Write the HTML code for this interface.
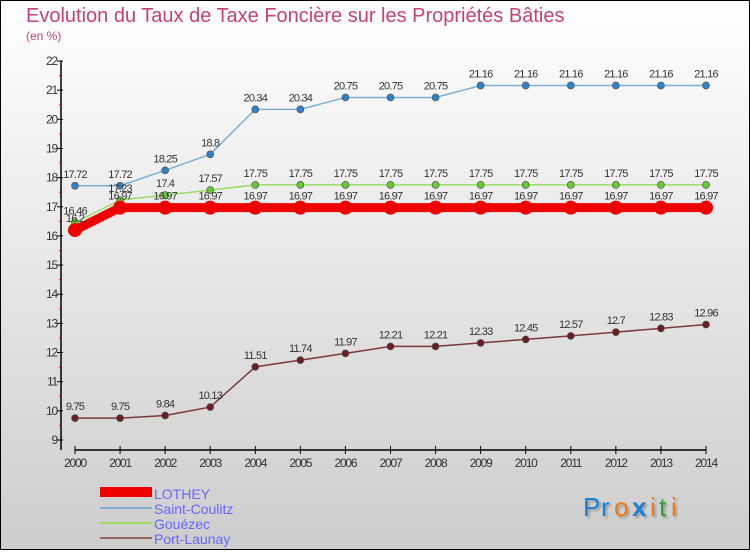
<!DOCTYPE html>
<html><head><meta charset="utf-8"><style>
html,body{margin:0;padding:0}
body{width:750px;height:550px;overflow:hidden;font-family:"Liberation Sans",sans-serif}
</style></head><body>
<svg id="c" width="750" height="550" xmlns="http://www.w3.org/2000/svg">
<defs><linearGradient id="bg" x1="0" y1="0" x2="0" y2="1"><stop offset="0" stop-color="#ffffff"/><stop offset="1" stop-color="#cdcdcd"/></linearGradient></defs>
<rect x="0.5" y="0.5" width="749" height="549" fill="url(#bg)" stroke="#000"/>
<text x="26" y="22" font-size="20" fill="#c8407a">Evolution du Taux de Taxe Foncière sur les Propriétés Bâties</text>
<text x="26" y="40" font-size="12" fill="#c8407a">(en %)</text>
<g id="axes"></g><g id="series"></g>
<g>
<rect x="100" y="487" width="52" height="10" fill="#ee0000"/>
<text x="154" y="499" font-size="14" fill="#6666ff">LOTHEY</text>
<rect x="100" y="507" width="52" height="2" fill="#7bafd4"/>
<text x="154" y="514" font-size="14" fill="#6666ff">Saint-Coulitz</text>
<rect x="100" y="522" width="52" height="2" fill="#99dd66"/>
<text x="154" y="529" font-size="14" fill="#6666ff">Gouézec</text>
<rect x="100" y="537" width="52" height="2" fill="#996666"/>
<text x="154" y="544" font-size="14" fill="#6666ff">Port-Launay</text>
</g>
<g font-size="26" style="text-shadow:2px 2px 2px #999">
<text x="583" y="516" fill="#1e7fd0">P</text><text x="601" y="516" fill="#1e7fd0">r</text><text x="614" y="516" fill="#f07a10">o</text><text x="632" y="516" fill="#1e7fd0" font-weight="bold">x</text><text x="650" y="516" fill="#f07a10">i</text><text x="659" y="516" fill="#30a030">t</text><text x="671" y="516" fill="#f07a10">i</text>
</g>
</svg>
<script>
const years=[2000,2001,2002,2003,2004,2005,2006,2007,2008,2009,2010,2011,2012,2013,2014];
const yTicks=[9,10,11,12,13,14,15,16,17,18,19,20,21,22];
const lothey=[16.2,16.97,16.97,16.97,16.97,16.97,16.97,16.97,16.97,16.97,16.97,16.97,16.97,16.97,16.97];
const saintCoulitz=[17.72,17.72,18.25,18.8,20.34,20.34,20.75,20.75,20.75,21.16,21.16,21.16,21.16,21.16,21.16];
const gouezec=[16.46,17.23,17.4,17.57,17.75,17.75,17.75,17.75,17.75,17.75,17.75,17.75,17.75,17.75,17.75];
const portLaunay=[9.75,9.75,9.84,10.13,11.51,11.74,11.97,12.21,12.21,12.33,12.45,12.57,12.7,12.83,12.96];
const NS='http://www.w3.org/2000/svg';
const X=i=>75+i*(706-75)/(years.length-1);
const Y=v=>440-(v-9)*(440-61)/13;
function mk(t,a,p){const e=document.createElementNS(NS,t);for(const k in a)e.setAttribute(k,a[k]);p.appendChild(e);return e;}
const ax=document.getElementById('axes');
const yl=mk('line',{x1:61,y1:61,x2:61,y2:450,stroke:'#000','stroke-width':1.5},ax);


yTicks.forEach(v=>{
 mk('line',{x1:57,y1:Y(v),x2:63,y2:Y(v),stroke:'#000'},ax);
 if(v<22)mk('line',{x1:59,y1:Y(v+0.5),x2:62,y2:Y(v+0.5),stroke:'#e00'},ax);
 const t=mk('text',{x:57,y:Y(v)+4,'font-size':12,'text-anchor':'end',fill:'#333','letter-spacing':'-1.2'},ax);t.textContent=v;
 
 
});
const xl=mk('line',{x1:75,y1:450,x2:706,y2:450,stroke:'#000','stroke-width':1.5},ax);


years.forEach((y,i)=>{
 mk('line',{x1:X(i),y1:446,x2:X(i),y2:454,stroke:'#000'},ax);
 const t=mk('text',{x:X(i),y:467,'font-size':12,'text-anchor':'middle',fill:'#333','letter-spacing':'-1.2'},ax);t.textContent=y;
 
 
});
const sg=document.getElementById('series');
function series(d,name,col,w,r,dot){
 const g=mk('g',{},sg);
 
 
 const pl=mk('polyline',{points:d.map((v,i)=>X(i)+','+Y(v)).join(' '),fill:'none',stroke:col,'stroke-width':w},g);
 
 
 d.forEach((v,i)=>{
  const c=mk('circle',{cx:X(i),cy:Y(v),r:r,fill:dot,stroke:'#555','stroke-width':r>5?0:0.7},g);
  
  
  const t=mk('text',{x:X(i),y:Y(v)-8,'font-size':11,'text-anchor':'middle',fill:'#333','letter-spacing':'-0.8'},g);t.textContent=v;
  
  
 });
}
series(portLaunay,'port-launay','#7a3a3a',1.5,3.5,'#6a1e1e');
series(saintCoulitz,'saint-coulitz','#7bafd4',1.5,3.5,'#2f82c8');
series(gouezec,'gouezec','#99dd66',1.5,3.5,'#66cc33');
series(lothey,'lothey','#ee0000',9,7,'#ee0000');
</script>
</body></html>
